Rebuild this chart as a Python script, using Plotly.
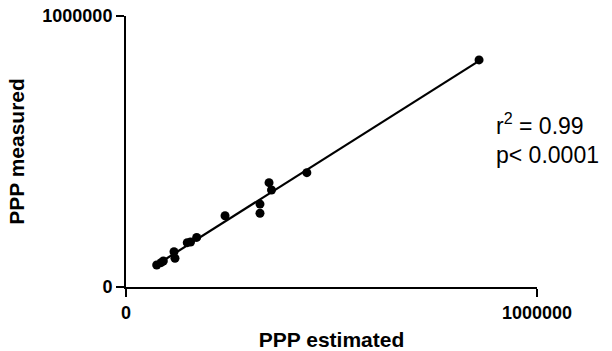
import numpy as np
import plotly.graph_objects as go

ppp_estimated = [74700, 85200, 90800, 116800, 119200, 149000, 157000, 172000,
                 241000, 326000, 326000, 348000, 354000, 440000, 859000]
ppp_measured = [81200, 89700, 95900, 130000, 106000, 163500, 166000, 183000,
                263000, 306000, 272000, 385000, 358000, 422000, 838000]
axis_ticks = [0, 1000000]
axis_ticklabels = ["0", "1000000"]
stats_lines = ["r<sup>2</sup> = 0.99", "p< 0.0001"]

slope, intercept = np.polyfit(ppp_estimated, ppp_measured, 1)
fit_x = [min(ppp_estimated), max(ppp_estimated)]
fit_y = [slope * v + intercept for v in fit_x]

FONT = "Liberation Sans, Arial, sans-serif"

fig = go.Figure()
fig.add_trace(go.Scatter(x=fit_x, y=fit_y, mode="lines",
                         line=dict(color="black", width=2.2),
                         hoverinfo="skip", cliponaxis=False))
fig.add_trace(go.Scatter(x=ppp_estimated, y=ppp_measured, mode="markers",
                         marker=dict(color="black", size=9),
                         cliponaxis=False))

axis_common = dict(
    range=[0, 1000000], tickvals=axis_ticks, ticktext=axis_ticklabels,
    showgrid=False, zeroline=False, showline=True, linecolor="black",
    linewidth=2, ticks="outside", ticklen=8, tickwidth=2, tickcolor="black",
    automargin=False, ticklabeloverflow="allow",
    tickfont=dict(family=FONT, size=18, color="black", weight="bold"),
)

fig.update_layout(
    width=612, height=351,
    margin=dict(l=126, r=75, t=16, b=64),
    paper_bgcolor="white", plot_bgcolor="white",
    showlegend=False,
    font=dict(family=FONT, color="black"),
    xaxis=dict(**axis_common,
               title=dict(text="<b>PPP estimated</b>", standoff=12,
                          font=dict(family=FONT, size=21, color="black"))),
    yaxis=dict(**axis_common,
               title=dict(text="<b>PPP measured</b>", standoff=12,
                          font=dict(family=FONT, size=21, color="black"))),
)

fig.add_annotation(text=stats_lines[0], xref="paper", yref="paper",
                   x=0.895, y=0.60, xanchor="left", yanchor="middle",
                   showarrow=False,
                   font=dict(family=FONT, size=23, color="black"))
fig.add_annotation(text=stats_lines[1], xref="paper", yref="paper",
                   x=0.895, y=0.487, xanchor="left", yanchor="middle",
                   showarrow=False,
                   font=dict(family=FONT, size=23, color="black"))

fig.write_html("out.html",
               config={"displayModeBar": False},
               post_script="document.body.style.margin='0';"
                           "document.body.style.overflow='hidden';")
